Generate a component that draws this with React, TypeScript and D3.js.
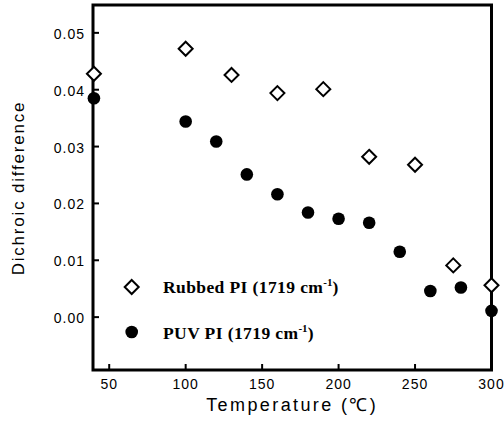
import React from "react";
import * as d3 from "d3";

const rubbedX = [40, 100, 130, 160, 190, 220, 250, 275, 300];
const rubbedY = [0.0428, 0.0472, 0.0426, 0.0394, 0.0401, 0.0282, 0.0268, 0.0091, 0.0056];
const puvX = [40, 100, 120, 140, 160, 180, 200, 220, 240, 260, 280, 300];
const puvY = [0.0385, 0.0344, 0.0309, 0.0251, 0.0216, 0.0184, 0.0173, 0.0166, 0.0115, 0.0046, 0.0052, 0.0011];
const xTicks = [50, 100, 150, 200, 250, 300];
const yTicks = [0.0, 0.01, 0.02, 0.03, 0.04, 0.05];
const legendLabels = ["Rubbed PI (1719 cm", "PUV PI (1719 cm"];

const W = 504, H = 426;
const L = 93, R = 491.5, T = 5, B = 370;

export default function App() {
  const x = d3.scaleLinear().domain([39.4, 300]).range([L, R]);
  const y = d3.scaleLinear().domain([-0.0093, 0.0549]).range([B, T]);
  const sans = "'Liberation Sans', Arial, sans-serif";
  const serif = "'Liberation Serif', 'Times New Roman', serif";
  const diamond = (cx: number, cy: number, s = 7) =>
    `M${cx},${cy - s}L${cx + s},${cy}L${cx},${cy + s}L${cx - s},${cy}Z`;

  return (
    <svg width={W} height={H} style={{ position: "absolute", left: 0, top: 0, background: "#fff" }}>
      <rect x={0} y={0} width={W} height={H} fill="#fff" />
      {/* ticks */}
      {xTicks.map((t) => (
        <line key={"xt" + t} x1={x(t)} x2={x(t)} y1={B} y2={B - 6} stroke="#000" strokeWidth={2} />
      ))}
      {yTicks.map((t) => (
        <line key={"yt" + t} x1={L} x2={L + 6} y1={y(t)} y2={y(t)} stroke="#000" strokeWidth={2} />
      ))}
      <rect x={L} y={T} width={R - L} height={B - T} fill="none" stroke="#000" strokeWidth={3} />
      {/* tick labels */}
      {xTicks.map((t) => (
        <text key={"xl" + t} x={x(t)} y={B + 19} textAnchor="middle" fontFamily={sans} fontSize={14} letterSpacing={1}>
          {t}
        </text>
      ))}
      {yTicks.map((t) => (
        <text key={"yl" + t} x={L - 8} y={y(t) + 6} textAnchor="end" fontFamily={sans} fontSize={14} letterSpacing={1}>
          {d3.format(".2f")(t)}
        </text>
      ))}
      {/* axis titles */}
      <text x={(L + R) / 2} y={411} textAnchor="middle" fontFamily={sans} fontSize={18} letterSpacing={2.4}>
        Temperature (℃)
      </text>
      <text transform={`translate(24,188) rotate(-90)`} textAnchor="middle" fontFamily={sans} fontSize={17} letterSpacing={1.8}>
        Dichroic difference
      </text>
      {/* data */}
      {puvX.map((v, i) => (
        <circle key={"p" + i} cx={x(v)} cy={y(puvY[i])} r={6.3} fill="#000" />
      ))}
      {rubbedX.map((v, i) => (
        <path key={"r" + i} d={diamond(x(v), y(rubbedY[i]))} fill="#fff" stroke="#000" strokeWidth={2} />
      ))}
      {/* legend */}
      <path d={diamond(131.7, 287)} fill="#fff" stroke="#000" strokeWidth={2} />
      <circle cx={131.7} cy={332} r={6.3} fill="#000" />
      {legendLabels.map((lab, i) => (
        <text key={"lg" + i} x={163} y={293 + i * 46} fontFamily={serif} fontWeight="bold" fontSize={17.5} letterSpacing={0.4}>
          {lab}
          <tspan dy={-7} fontSize={11} letterSpacing={0}>-1</tspan>
          <tspan dy={7}>)</tspan>
        </text>
      ))}
    </svg>
  );
}
